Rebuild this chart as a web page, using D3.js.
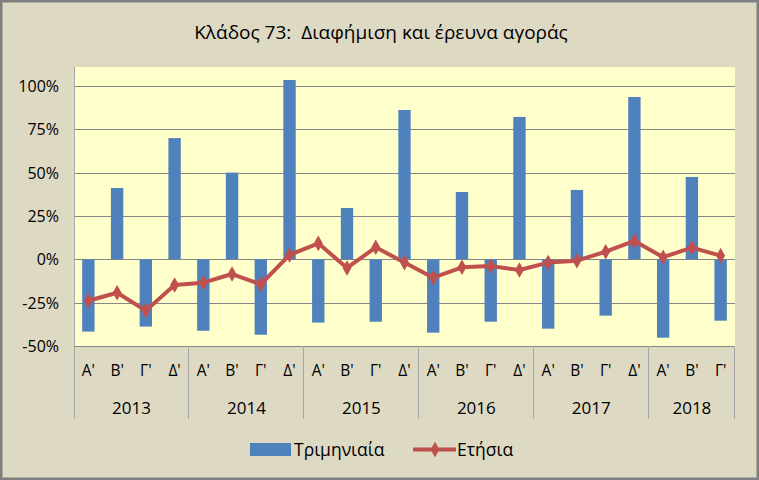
<!doctype html>
<html>
<head>
<meta charset="utf-8">
<script src="https://d3js.org/d3.v7.min.js"></script>
<style>
    body { margin: 0; background: #fff; }
    svg text { font-family: "Open Sans", "Noto Sans", sans-serif; fill: #000; white-space: pre; }
</style>
</head>
<body>
<script>
    // data
    const years = ["2013", "2014", "2015", "2016", "2017", "2018"];
    const quarters = ["Α'", "Β'", "Γ'", "Δ'"];
    const quarterly = [-41.7, 41.1, -38.8, 69.9, -41.2, 50.0, -43.5, 103.4, -36.5, 29.6, -36.0, 86.1,
                       -42.3, 38.8, -36.0, 82.1, -40.0, 40.0, -32.5, 93.6, -45.2, 47.5, -35.4];
    const annual = [-23.9, -19.3, -29.6, -14.8, -13.5, -8.5, -14.4, 2.5, 9.2, -5.0, 6.9, -1.9,
                    -10.6, -4.6, -3.9, -6.2, -1.9, -0.8, 4.4, 10.6, 1.2, 6.7, 2.1];
    const yTicks = [-50, -25, 0, 25, 50, 75, 100];

    const W = 759, H = 480;
    const pLeft = 74, pRight = 735, pTop = 67, pBottom = 346;

    // categories: one per quarter with data
    const cats = quarterly.map((d, i) => ({
        i: i,
        year: years[Math.floor(i / 4)],
        q: quarters[i % 4]
    }));

    const svg = d3.select("body").append("svg")
        .attr("width", W).attr("height", H);

    // chart background + border
    svg.append("rect")
        .attr("x", 1).attr("y", 1).attr("width", W - 2).attr("height", H - 2)
        .attr("fill", "#ddd9c3").attr("stroke", "#7f7f7f").attr("stroke-width", 3);

    svg.append("rect")
        .attr("x", pLeft).attr("y", pTop).attr("width", pRight - pLeft).attr("height", pBottom - pTop)
        .attr("fill", "#ffffcc");

    const x = d3.scaleBand()
        .domain(cats.map(d => d.i))
        .range([pLeft, pRight])
        .paddingInner(0.57).paddingOuter(0.285);
    const slot = d3.scaleBand().domain(cats.map(d => d.i)).range([pLeft, pRight]);

    const y = d3.scaleLinear().domain([-50, 110.9]).range([pBottom, pTop]);

    // gridlines
    svg.append("g").selectAll("line")
        .data(yTicks.filter(t => t > -50))
        .join("line")
        .attr("x1", pLeft).attr("x2", pRight)
        .attr("y1", d => Math.round(y(d)) + 0.5).attr("y2", d => Math.round(y(d)) + 0.5)
        .attr("stroke", "#868686").attr("stroke-width", 1);

    // y axis labels
    svg.append("g").selectAll("text")
        .data(yTicks)
        .join("text")
        .attr("x", 59).attr("y", d => y(d) + 6)
        .attr("text-anchor", "end")
        .style("font-size", "16px")
        .text(d => d + "%");

    // axes lines
    svg.append("line").attr("x1", pLeft + 0.5).attr("x2", pLeft + 0.5)
        .attr("y1", pTop).attr("y2", 419).attr("stroke", "#a6a6a6");
    svg.append("line").attr("x1", pLeft).attr("x2", pRight)
        .attr("y1", pBottom + 0.5).attr("y2", pBottom + 0.5).attr("stroke", "#868686");

    // year separators
    const yearEdges = years.map((yr, k) => slot(k * 4)).concat([pRight]);
    svg.append("g").selectAll("line")
        .data(yearEdges.slice(1))
        .join("line")
        .attr("x1", d => Math.round(d) - 0.5).attr("x2", d => Math.round(d) - 0.5)
        .attr("y1", pBottom).attr("y2", 419)
        .attr("stroke", "#a6a6a6");

    // bars
    svg.append("g").selectAll("rect")
        .data(cats)
        .join("rect")
        .attr("x", d => x(d.i))
        .attr("width", x.bandwidth())
        .attr("y", d => y(Math.max(0, quarterly[d.i])))
        .attr("height", d => Math.abs(y(quarterly[d.i]) - y(0)))
        .attr("fill", "#4f81bd");

    // annual line
    const line = d3.line()
        .x((d, i) => slot(i) + slot.bandwidth() / 2)
        .y(d => y(d));
    svg.append("path")
        .datum(annual)
        .attr("d", line)
        .attr("fill", "none")
        .attr("stroke", "#c0504d")
        .attr("stroke-width", 4)
        .attr("stroke-linejoin", "round");

    const diamond = d3.symbol().type(d3.symbolDiamond).size(70);
    svg.append("g").selectAll("path")
        .data(annual)
        .join("path")
        .attr("d", diamond)
        .attr("transform", (d, i) => `translate(${slot(i) + slot.bandwidth() / 2},${y(d)})`)
        .attr("fill", "#c0504d");

    // quarter labels
    svg.append("g").selectAll("text")
        .data(cats)
        .join("text")
        .attr("x", d => slot(d.i) + slot.bandwidth() / 2)
        .attr("y", 376)
        .attr("text-anchor", "middle")
        .style("font-size", "15.5px")
        .text(d => d.q);

    // year labels
    svg.append("g").selectAll("text")
        .data(years)
        .join("text")
        .attr("x", (d, k) => (yearEdges[k] + yearEdges[k + 1]) / 2)
        .attr("y", 414)
        .attr("text-anchor", "middle")
        .style("font-size", "17px")
        .text(d => d);

    // title
    svg.append("text")
        .attr("x", 381).attr("y", 39)
        .attr("text-anchor", "middle")
        .style("font-size", "19px")
        .text("Κλάδος 73:  Διαφήμιση και έρευνα αγοράς");

    // legend
    const lg = svg.append("g");
    lg.append("rect").attr("x", 250).attr("y", 443).attr("width", 41).attr("height", 13)
        .attr("fill", "#4f81bd");
    lg.append("text").attr("x", 294).attr("y", 456).style("font-size", "17.5px").text("Τριμηνιαία");
    lg.append("line").attr("x1", 413).attr("x2", 456).attr("y1", 449.5).attr("y2", 449.5)
        .attr("stroke", "#c0504d").attr("stroke-width", 4);
    lg.append("path").attr("d", diamond).attr("transform", "translate(435,449.5)").attr("fill", "#c0504d");
    lg.append("text").attr("x", 457).attr("y", 456).style("font-size", "17.5px").text("Ετήσια");
</script>
</body>
</html>
